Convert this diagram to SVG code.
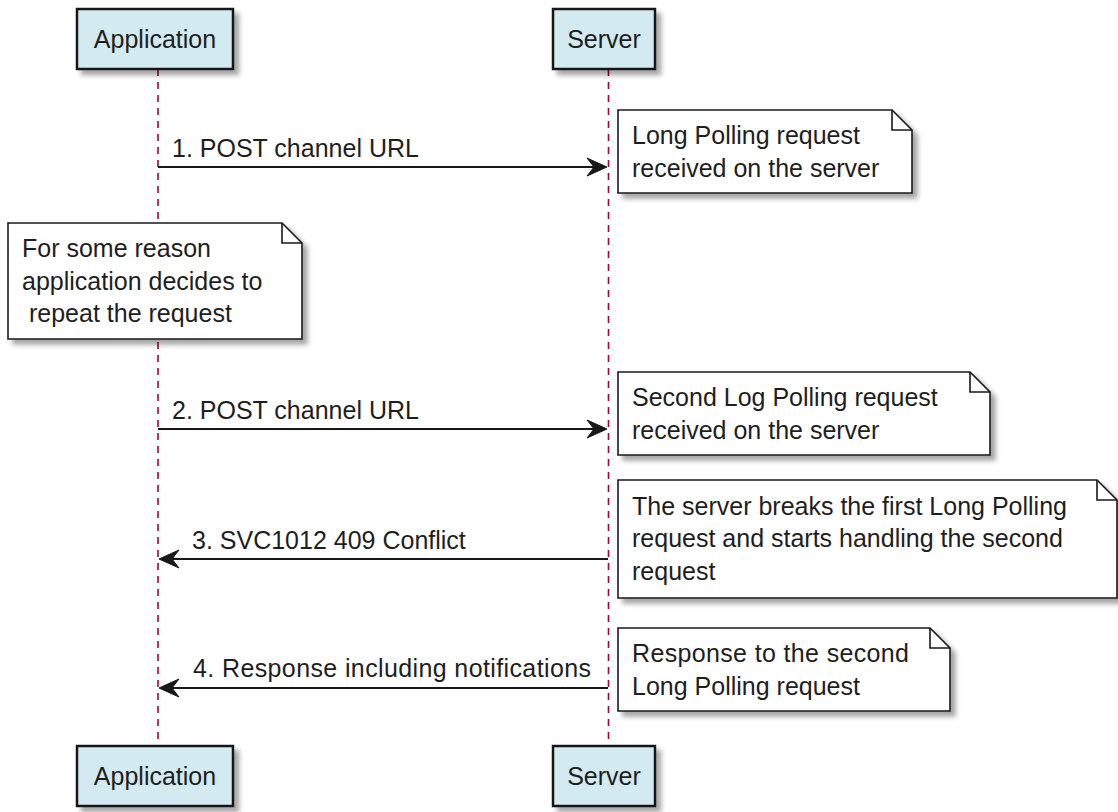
<svg xmlns="http://www.w3.org/2000/svg" width="1118" height="812" viewBox="0 0 1118 812">
<style>
text{font-family:"Liberation Sans",Arial,sans-serif;font-size:25px;fill:#1e1e1e}
.part{fill:#D3EAF0;stroke:#181818;stroke-width:2.5}
.note{fill:#FFFFFF;stroke:#181818;stroke-width:1.6}
.fold{fill:none;stroke:#181818;stroke-width:1.6}
.life{stroke:#A80036;stroke-width:1.6;stroke-dasharray:7,6;fill:none}
.msg{stroke:#181818;stroke-width:1.8;fill:none}
.head{fill:#181818;stroke:#181818;stroke-width:1}
.c{text-anchor:middle}
</style>
<defs>
<filter id="sh" x="-10%" y="-10%" width="130%" height="140%">
<feGaussianBlur in="SourceAlpha" stdDeviation="2.5"/>
<feOffset dx="5" dy="5" result="b"/>
<feFlood flood-color="#000" flood-opacity="0.35"/>
<feComposite in2="b" operator="in"/>
<feMerge><feMergeNode/><feMergeNode in="SourceGraphic"/></feMerge>
</filter>
</defs>
<g id="lifelines">
<line class="life" x1="158" y1="69" x2="158" y2="746"/>
<line class="life" x1="608.5" y1="69" x2="608.5" y2="746"/>
</g>
<g id="participant-application-top">
<rect class="part" x="77" y="9" width="156" height="60" filter="url(#sh)"/>
<text class="c" x="155" y="48">Application</text>
</g>
<g id="participant-server-top">
<rect class="part" x="553" y="9" width="102" height="60" filter="url(#sh)"/>
<text class="c" x="604" y="48">Server</text>
</g>
<g id="participant-application-bottom">
<rect class="part" x="77" y="746" width="156" height="60" filter="url(#sh)"/>
<text class="c" x="155" y="785">Application</text>
</g>
<g id="participant-server-bottom">
<rect class="part" x="553" y="746" width="102" height="60" filter="url(#sh)"/>
<text class="c" x="604" y="785">Server</text>
</g>
<g id="connectors">
<line class="msg" x1="158" y1="167" x2="600" y2="167"/>
<polygon class="head" points="607,167 587,158 594,167 587,176"/>
<text x="172" y="157">1. POST channel URL</text>
<line class="msg" x1="158" y1="429" x2="600" y2="429"/>
<polygon class="head" points="607,429 587,420 594,429 587,438"/>
<text x="172" y="419">2. POST channel URL</text>
<line class="msg" x1="608" y1="559" x2="166" y2="559"/>
<polygon class="head" points="159,559 179,550 172,559 179,568"/>
<text x="192" y="549">3. SVC1012 409 Conflict</text>
<line class="msg" x1="608" y1="688" x2="166" y2="688"/>
<polygon class="head" points="159,688 179,679 172,688 179,697"/>
<text x="193" y="677" textLength="398" lengthAdjust="spacing">4. Response including notifications</text>
</g>
<g id="note-1">
<path class="note" d="M618,110 H892 L912,130 V193 H618 Z" filter="url(#sh)"/>
<path class="fold" d="M892,110 V130 H912"/>
<text x="632" y="144">Long Polling request</text>
<text x="632" y="176.5">received on the server</text>
</g>
<g id="note-2">
<path class="note" d="M8,223 H282 L302,243 V339 H8 Z" filter="url(#sh)"/>
<path class="fold" d="M282,223 V243 H302"/>
<text x="22" y="257">For some reason</text>
<text x="22" y="289.5">application decides to</text>
<text x="22" y="322" style="white-space:pre"> repeat the request</text>
</g>
<g id="note-3">
<path class="note" d="M618,372 H970 L990,392 V455 H618 Z" filter="url(#sh)"/>
<path class="fold" d="M970,372 V392 H990"/>
<text x="632" y="406">Second Log Polling request</text>
<text x="632" y="438.5">received on the server</text>
</g>
<g id="note-4">
<path class="note" d="M618,480 H1097 L1117,500 V598 H618 Z" filter="url(#sh)"/>
<path class="fold" d="M1097,480 V500 H1117"/>
<text x="632" y="515">The server breaks the first Long Polling</text>
<text x="632" y="547">request and starts handling the second</text>
<text x="632" y="579.5">request</text>
</g>
<g id="note-5">
<path class="note" d="M618,628 H930 L950,648 V711 H618 Z" filter="url(#sh)"/>
<path class="fold" d="M930,628 V648 H950"/>
<text x="632" y="662" textLength="277" lengthAdjust="spacing">Response to the second</text>
<text x="632" y="694.5">Long Polling request</text>
</g>
</svg>
